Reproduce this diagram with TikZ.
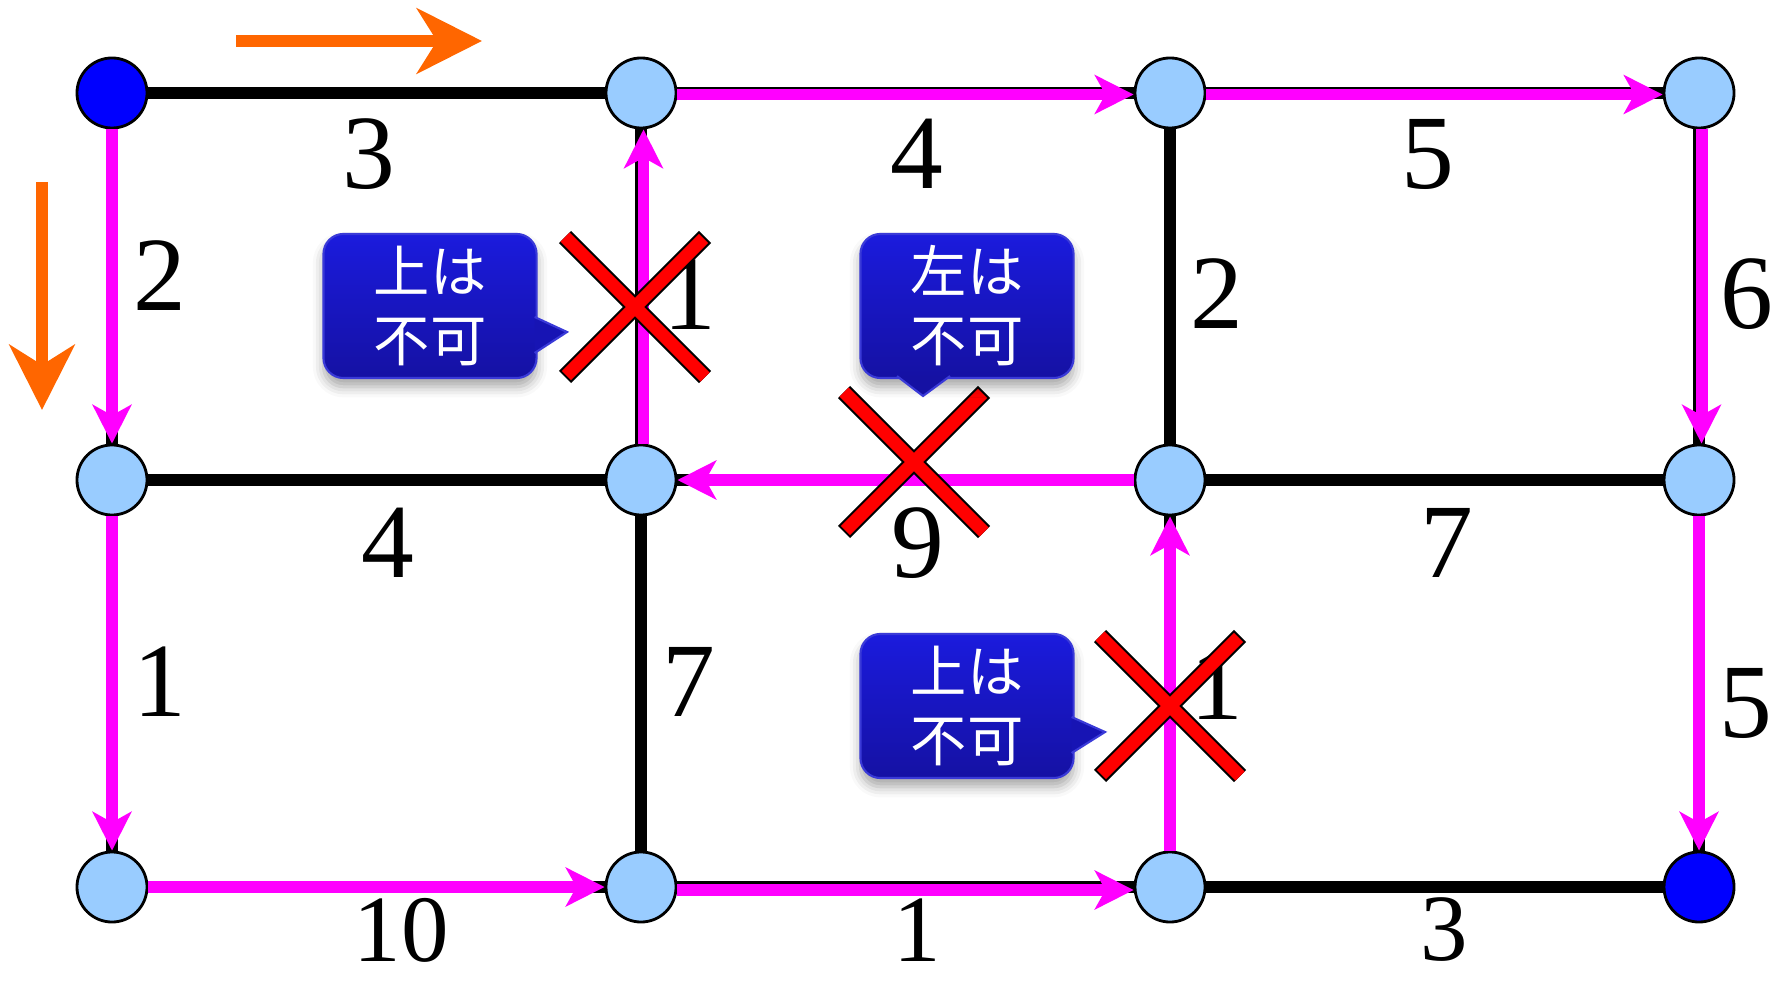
\documentclass[tikz,border=0pt]{standalone}
\usepackage{fontspec}
\setmainfont{Liberation Serif}
\newfontfamily\jpfont{Noto Sans CJK JP}
\usepackage{tikz}
\usetikzlibrary{arrows.meta}
\usetikzlibrary{calc}
\usetikzlibrary{shadows.blur}
\definecolor{vtxblue}{HTML}{99CCFF}
\definecolor{endblue}{HTML}{0000FF}
\definecolor{routepink}{HTML}{FF00FF}
\definecolor{hintorange}{HTML}{FF6600}
\definecolor{tiptop}{HTML}{1B1BDD}
\definecolor{tipbot}{HTML}{1511A3}
\definecolor{tiprim}{HTML}{3A3AD8}
\tikzset{>=latex}
\tikzset{
  vertex/.style={circle,draw=black,line width=0.8pt,fill=vtxblue,minimum size=0.7cm,inner sep=0pt},
  endvertex/.style={vertex,fill=endblue},
  road/.style={draw=black,line width=3.4pt},
  route/.style={draw=routepink,line width=3.4pt,-{Stealth[length=11pt,width=11pt,inset=3pt]}},
  cost/.style={inner sep=0pt,font=\fontsize{30}{30}\selectfont},
  lowcost/.style={cost,font=\fontsize{27}{27}\selectfont},
  hint/.style={draw=hintorange,line width=3.4pt,-{Stealth[length=18.5pt,width=18.5pt,inset=5.7pt]}},
  tipshadow/.style={blur shadow={shadow xshift=0pt,shadow yshift=-2.5pt,shadow blur radius=3pt,shadow opacity=35}},
  tipbox/.style={rounded corners=0.2cm,top color=tiptop,bottom color=tipbot,draw=tiprim,line width=0.6pt,
    minimum width=2.13cm,minimum height=1.44cm,text=white,align=center,
    font=\jpfont\fontsize{16}{19.6}\selectfont,tipshadow},
  nogo/.style={line width=0.17cm,draw=black},
  nogofill/.style={line width=0.13cm,draw=red,shorten <=0.02cm,shorten >=0.02cm},
}

\begin{document}
\begin{tikzpicture}[x=0.01cm,y=-0.01cm]
    \useasboundingbox (0,0) rectangle (1780,986);
    % grid of crossings
    \node[endvertex] (v00) at (112,93) {};
    \node[vertex] (v10) at (641,93) {};
    \node[vertex] (v20) at (1170,93) {};
    \node[vertex] (v30) at (1699,93) {};
    \node[vertex] (v01) at (112,480) {};
    \node[vertex] (v11) at (641,480) {};
    \node[vertex] (v21) at (1170,480) {};
    \node[vertex] (v31) at (1699,480) {};
    \node[vertex] (v02) at (112,887) {};
    \node[vertex] (v12) at (641,887) {};
    \node[vertex] (v22) at (1170,887) {};
    \node[endvertex] (v32) at (1699,887) {};
    % roads
    \foreach \a/\b in {v00/v10,v10/v20,v20/v30,v01/v11,v11/v21,v21/v31,v02/v12,v12/v22,v22/v32,
        v00/v01,v01/v02,v10/v11,v11/v12,v20/v21,v21/v22,v30/v31,v31/v32}
        \draw[road] (\a) -- (\b);
    % costs
    \node[cost] (w1) at (369,154) {3};
    \node[cost] (w2) at (917,154) {4};
    \node[cost] (w3) at (1428,154) {5};
    \node[cost] (w4) at (160,276) {2};
    \node[cost] (w5) at (690,295) {1};
    \node[cost] (w6) at (1217,294) {2};
    \node[cost] (w7) at (1747,294) {6};
    \node[cost] (w8) at (388,543) {4};
    \node[cost] (w9) at (918,543) {9};
    \node[cost] (w10) at (1447,543) {7};
    \node[cost] (w11) at (160,682) {1};
    \node[cost] (w12) at (689,682) {7};
    \node[cost] (w13) at (1217,685) {1};
    \node[cost] (w14) at (1746,703) {5};
    \node[lowcost] (w15) at (401,930) {10};
    \node[lowcost] (w16) at (917,930) {1};
    \node[lowcost] (w17) at (1444,930) {3};
    % the route
    \draw[route] (v00) -- (v01);
    \draw[route] (v01) -- (v02);
    \draw[route] (v02) -- (v12);
    \draw[route,transform canvas={yshift=-0.03cm}] (v12) -- (v22);
    \draw[route] (v22) -- (v21);
    \draw[route] (v21) -- (v11);
    \draw[route,transform canvas={xshift=0.025cm}] (v11) -- (v10);
    \draw[route,transform canvas={yshift=-0.015cm}] (v10) -- (v20);
    \draw[route,transform canvas={yshift=-0.015cm}] (v20) -- (v30);
    \draw[route,transform canvas={xshift=0.025cm}] (v30) -- (v31);
    \draw[route] (v31) -- (v32);
    % crosses
    \coordinate (noA) at (635,307);
    \coordinate (noB) at (914,462);
    \coordinate (noC) at (1170,706);
    \foreach \c in {noA,noB,noC}
        \draw[nogo] ($(\c)+(-70,-70)$) -- ($(\c)+(70,70)$) ($(\c)+(-70,70)$) -- ($(\c)+(70,-70)$);
    \foreach \c in {noA,noB,noC}
        \draw[nogofill] ($(\c)+(-70,-70)$) -- ($(\c)+(70,70)$) ($(\c)+(-70,70)$) -- ($(\c)+(70,-70)$);
    % balloons
    \node[tipbox] (warnA) at (430,306) {上は\\不可};
    \node[tipbox] (warnB) at (967,306) {左は\\不可};
    \node[tipbox] (warnC) at (967,706) {上は\\不可};
    \coordinate (pinA) at (567,332);
    \coordinate (pinB) at (923,396);
    \coordinate (pinC) at (1105,732);
    \path[fill=tipbot!70!tiptop,draw=tiprim,line width=0.6pt] ($(warnA.east)+(-3,11)$) -- (pinA) -- ($(warnA.east)+(-3,47)$);
    \path[fill=tipbot,draw=tiprim,line width=0.6pt] ($(warnB.south)+(-70,-3)$) -- (pinB) -- ($(warnB.south)+(-17,-3)$);
    \path[fill=tipbot!70!tiptop,draw=tiprim,line width=0.6pt] ($(warnC.east)+(-3,11)$) -- (pinC) -- ($(warnC.east)+(-3,47)$);
    % directions
    \coordinate (rgtA) at (236,41);
    \coordinate (rgtB) at (482,41);
    \coordinate (dwnA) at (42,182);
    \coordinate (dwnB) at (42,410);
    \draw[hint] (rgtA) -- (rgtB);
    \draw[hint] (dwnA) -- (dwnB);
\end{tikzpicture}
\end{document}
